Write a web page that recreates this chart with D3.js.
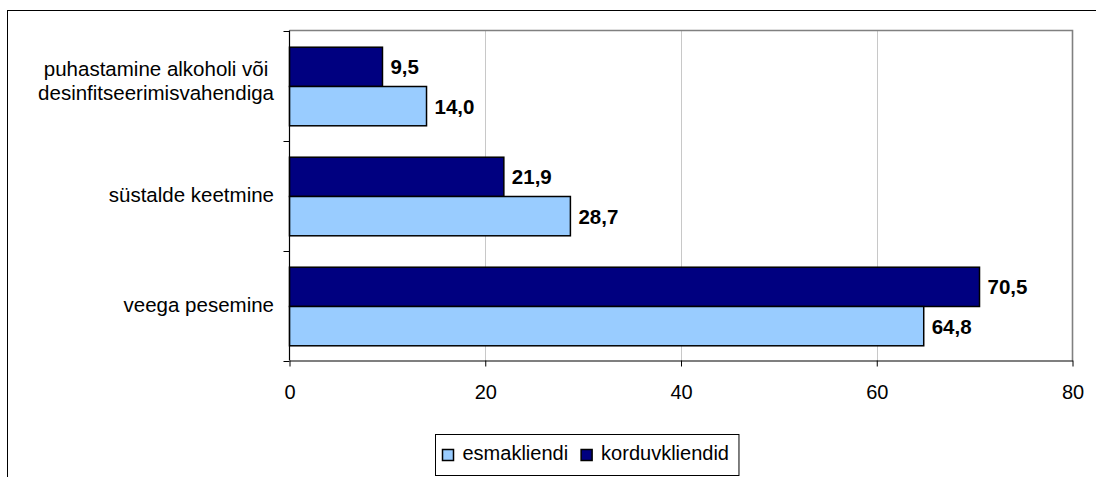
<!DOCTYPE html>
<html>
<head>
<meta charset="utf-8">
<script src="https://cdn.jsdelivr.net/npm/d3@7"></script>
<style>
  html, body { margin: 0; padding: 0; background: #fff; }
  svg { display: block; font-family: "Liberation Sans", Arial, sans-serif; }
</style>
</head>
<body>
<svg id="chart" width="1096" height="477"></svg>
<script>
// ---- data ----
const categories = ["puhastamine alkoholi või\ndesinfitseerimisvahendiga", "süstalde keetmine", "veega pesemine"];
const esmakliendi = [14.0, 28.7, 64.8];
const korduvkliendid = [9.5, 21.9, 70.5];
const seriesNames = ["esmakliendi", "korduvkliendid"];
const xTicks = [0, 20, 40, 60, 80];

// ---- styles / layout ----
const colors = { esmakliendi: "#99CCFF", korduvkliendid: "#000080" };
const plot = { left: 289.5, right: 1072.5, top: 30.5, bottom: 360.5 };
const svg = d3.select("#chart");

// outer frame (clipped on right/bottom as in reference)
svg.append("rect").attr("x", 7.5).attr("y", 10.5).attr("width", 2000).attr("height", 2000)
  .attr("fill", "none").attr("stroke", "#000").attr("stroke-width", 1);

const x = d3.scaleLinear().domain([0, 80]).range([plot.left, plot.right]);
const y = d3.scaleBand().domain(categories).range([plot.top, plot.bottom]).paddingInner(0).paddingOuter(0);
const barOrder = ["korduvkliendid", "esmakliendi"];
const y1 = d3.scaleBand().domain(barOrder).range([0, y.bandwidth()]).paddingInner(0).paddingOuter(0.4);

// gridlines
svg.append("g").selectAll("line").data(xTicks.filter(t => t > 0 && t < 80)).join("line")
  .attr("x1", d => Math.round(x(d)) + 0.5).attr("x2", d => Math.round(x(d)) + 0.5)
  .attr("y1", plot.top).attr("y2", plot.bottom)
  .attr("stroke", "#c8c8c8").attr("stroke-width", 1);

// plot border top/right (gray)
svg.append("path")
  .attr("d", `M${plot.left},${plot.top}H${plot.right}V${plot.bottom}`)
  .attr("fill", "none").attr("stroke", "#808080").attr("stroke-width", 1.6);

// bars
const rows = categories.map((c, i) => ({ cat: c, esmakliendi: esmakliendi[i], korduvkliendid: korduvkliendid[i] }));
const groups = svg.append("g").selectAll("g").data(rows).join("g")
  .attr("transform", d => `translate(0,${y(d.cat) + 1})`);

groups.selectAll("rect").data(d => barOrder.map(k => ({ key: k, value: d[k] }))).join("rect")
  .attr("x", x(0))
  .attr("y", d => y1(d.key))
  .attr("width", d => x(d.value) - x(0))
  .attr("height", y1.bandwidth())
  .attr("fill", d => colors[d.key])
  .attr("stroke", "#000").attr("stroke-width", 1.5);

groups.selectAll("text").data(d => barOrder.map(k => ({ key: k, value: d[k] }))).join("text")
  .attr("x", d => x(d.value) + 8)
  .attr("y", d => y1(d.key) + y1.bandwidth() / 2)
  .attr("dy", "0.36em")
  .attr("font-size", "20.5px").attr("font-weight", "bold").attr("fill", "#000")
  .text(d => d3.format(".1f")(d.value).replace(".", ","));

// x axis
const xAxis = d3.axisBottom(x).tickValues(xTicks).tickSize(6).tickSizeOuter(0).tickPadding(18).tickFormat(d3.format("d"));
const gx = svg.append("g").attr("transform", `translate(0,${plot.bottom})`).call(xAxis);
gx.select(".domain").attr("stroke", "#000").attr("stroke-width", 1.2);
gx.selectAll(".tick line").attr("stroke", "#000");
gx.selectAll(".tick text").attr("font-size", "20px").attr("font-family", "'Liberation Sans', Arial, sans-serif").attr("fill", "#000");

// y axis line + ticks at band boundaries
const boundaries = categories.map(c => y(c)).concat([y(categories[categories.length - 1]) + y.bandwidth()]);
svg.append("line").attr("x1", plot.left).attr("x2", plot.left).attr("y1", plot.top).attr("y2", plot.bottom)
  .attr("stroke", "#000").attr("stroke-width", 1.2);
svg.append("g").selectAll("line").data(boundaries).join("line")
  .attr("x1", plot.left - 6).attr("x2", plot.left)
  .attr("y1", d => Math.round(d) + 0.5).attr("y2", d => Math.round(d) + 0.5)
  .attr("stroke", "#000");

// category labels
const labelRight = 274;
const lh = 24.7;
categories.forEach(c => {
  const lines = c.split("\n");
  const n = lines.length;
  const cy = y(c) + y.bandwidth() / 2;
  const t = svg.append("text").attr("font-size", "20.5px").attr("fill", "#000");
  const tspans = lines.map((ln, i) => t.append("tspan").text(ln)
    .attr("y", cy + 6.7 + (i - (n - 1) / 2) * lh - (n > 1 ? 4.2 : 0)));
  const widths = tspans.map(ts => ts.node().getComputedTextLength());
  const maxW = d3.max(widths);
  const center = labelRight - maxW / 2;
  tspans.forEach(ts => ts.attr("x", center).attr("text-anchor", "middle"));
});

// legend
const leg = svg.append("g");
const legBox = leg.append("rect").attr("x", 435.5).attr("y", 434.5).attr("height", 41)
  .attr("fill", "#fff").attr("stroke", "#000").attr("stroke-width", 1);
let lx = 442;
seriesNames.forEach(name => {
  leg.append("rect").attr("x", lx + 0.5).attr("y", 449.5).attr("width", 11).attr("height", 11)
    .attr("fill", colors[name]).attr("stroke", "#000").attr("stroke-width", 1.5);
  const tx = leg.append("text").attr("x", lx + 20.5).attr("y", 460).attr("font-size", "20px").attr("fill", "#000").text(name);
  lx = lx + 20.5 + tx.node().getComputedTextLength() + 12.5;
});
legBox.attr("width", lx - 12.5 + 10 - 435.5);
</script>
</body>
</html>
